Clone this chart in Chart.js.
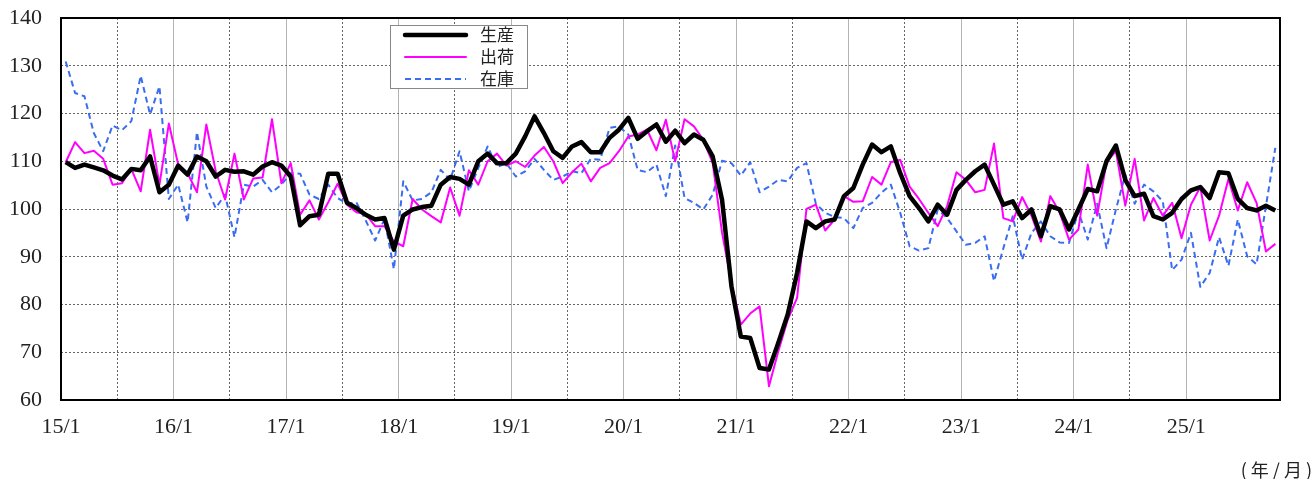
<!DOCTYPE html>
<html lang="ja">
<head>
<meta charset="utf-8">
<title>生産・出荷・在庫</title>
<script src="https://cdn.jsdelivr.net/npm/chart.js@4.4.1/dist/chart.umd.min.js"></script>
<style>
  html, body { margin: 0; padding: 0; background: #fff; }
  #wrap { width: 1316px; height: 479px; }
</style>
</head>
<body>
<div id="wrap"><canvas id="chart" width="1316" height="479"></canvas></div>
<script>
// 15/1 .. 25/10, monthly
const yearLabels = ['15/1', '16/1', '17/1', '18/1', '19/1', '20/1', '21/1', '22/1', '23/1', '24/1', '25/1'];
const monthCount = 130;
const seriesNames = ['生産', '出荷', '在庫'];
const unitLabel = '(年/月)';

const production = [
  109.8, 108.6, 109.3, 108.7, 108.1, 107.0, 106.2, 108.4, 108.1, 111.0, 103.5, 105.1,
  109.1, 107.2, 111.0, 110.0, 106.8, 108.2, 107.8, 107.9, 107.2, 108.9, 109.8, 109.1,
  106.8, 96.6, 98.5, 98.8, 107.4, 107.4, 101.3, 100.2, 98.8, 97.8, 98.1, 91.5,
  98.6, 99.9, 100.4, 100.7, 105.1, 106.7, 106.3, 105.1, 110.0, 111.6, 109.6, 109.6,
  111.6, 115.2, 119.4, 115.9, 112.1, 110.7, 113.1, 114.0, 111.9, 111.9, 114.9, 116.6,
  119.1, 114.7, 116.3, 117.7, 114.1, 116.4, 113.8, 115.6, 114.5, 111.0, 101.9, 83.8,
  73.3, 73.0, 66.7, 66.4, 72.0, 77.9, 86.6, 97.4, 96.0, 97.4, 97.8, 102.7,
  104.4, 109.3, 113.5, 111.9, 113.1, 107.5, 102.7, 100.2, 97.4, 100.9, 98.8, 104.0,
  106.1, 107.9, 109.3, 105.1, 100.9, 101.6, 98.1, 99.9, 94.3, 100.6, 99.9, 95.7,
  99.9, 104.2, 103.7, 110.0, 113.3, 106.1, 102.7, 103.2, 98.5, 97.8, 99.2, 102.1,
  103.9, 104.6, 102.3, 107.7, 107.5, 102.1, 100.2, 99.7, 100.7, 99.7
];
const shipment = [
  109.8, 114.0, 111.7, 112.2, 110.5, 105.1, 105.4, 108.4, 103.7, 116.6, 105.1, 117.9,
  109.3, 107.5, 103.5, 117.7, 107.9, 102.0, 111.6, 102.0, 106.4, 106.6, 118.8, 105.4,
  109.6, 98.8, 101.8, 97.8, 101.4, 105.3, 100.9, 99.3, 98.9, 96.4, 96.4, 93.2,
  92.2, 102.1, 99.9, 98.5, 97.2, 104.5, 98.6, 108.1, 105.1, 110.0, 111.6, 109.1,
  110.0, 108.8, 111.2, 113.0, 110.0, 105.4, 107.7, 109.5, 105.8, 108.6, 109.6, 112.1,
  115.2, 115.6, 116.6, 112.3, 118.7, 110.0, 118.8, 117.3, 114.5, 109.6, 95.0, 84.5,
  75.8, 78.1, 79.6, 62.9, 70.2, 76.8, 81.4, 100.0, 100.9, 95.5, 97.8, 102.7,
  101.5, 101.6, 106.7, 105.1, 109.8, 110.3, 104.7, 102.1, 99.2, 96.4, 100.6, 107.7,
  106.1, 103.5, 104.0, 113.7, 98.1, 97.4, 102.5, 98.6, 93.2, 102.7, 99.3, 93.6,
  95.7, 109.3, 98.6, 109.8, 112.1, 100.7, 110.5, 97.6, 102.3, 98.6, 101.3, 93.9,
  100.9, 104.6, 93.4, 98.6, 106.3, 99.7, 105.6, 101.3, 91.1, 92.7
];
const inventory = [
  130.9, 124.3, 123.6, 115.9, 112.1, 117.5, 116.5, 118.4, 127.9, 119.8, 125.7, 102.1,
  105.1, 97.2, 116.1, 104.7, 100.2, 103.0, 94.1, 105.1, 104.7, 106.1, 103.5, 105.1,
  107.5, 107.4, 103.0, 102.1, 105.1, 102.3, 101.1, 101.4, 97.6, 93.4, 97.9, 87.4,
  105.8, 101.8, 102.1, 103.5, 108.2, 106.1, 112.1, 103.7, 108.6, 113.1, 108.8, 109.6,
  106.8, 107.9, 110.5, 108.2, 106.1, 106.8, 107.9, 107.5, 110.5, 110.3, 117.0, 117.3,
  115.6, 108.2, 107.7, 109.3, 102.7, 113.3, 102.3, 101.3, 99.9, 103.0, 110.1, 109.6,
  107.0, 109.8, 103.5, 104.7, 106.1, 105.8, 108.6, 109.6, 101.1, 99.2, 98.3, 98.1,
  96.0, 100.2, 101.3, 103.4, 105.1, 99.2, 92.2, 91.3, 91.8, 99.9, 98.1, 95.3,
  92.5, 92.9, 94.3, 84.9, 91.8, 98.5, 89.4, 95.0, 97.4, 94.3, 93.0, 92.9,
  99.5, 93.6, 101.1, 91.8, 99.9, 107.2, 101.1, 105.1, 103.7, 101.6, 87.2, 89.4,
  95.0, 83.7, 86.6, 94.1, 88.1, 97.8, 90.1, 88.4, 100.6, 112.8
];

// points sit in the middle of each month
const toPoints = arr => arr.map((v, i) => ({ x: i + 0.5, y: v }));

const numFont = "'Liberation Serif', 'DejaVu Serif', serif";
const jpFont = "'Noto Sans CJK JP', sans-serif";

const isYear = c => c.tick && c.tick.value % 12 === 0;

// frame, legend box and unit label
const extras = {
  id: 'extras',
  afterDatasetsDraw(chart) {
    const { ctx, chartArea: a } = chart;
    ctx.save();
    ctx.strokeStyle = '#000';
    ctx.lineWidth = 2;
    ctx.strokeRect(a.left, a.top, a.right - a.left, a.bottom - a.top);

    // legend
    const bx = 390.5, by = 25.5, bw = 137, bh = 63;
    ctx.fillStyle = '#fff';
    ctx.fillRect(bx, by, bw, bh);
    ctx.strokeStyle = '#888';
    ctx.lineWidth = 1;
    ctx.strokeRect(bx, by, bw, bh);
    chart.data.datasets.forEach((ds, i) => {
      const y = 35 + i * 22;
      ctx.beginPath();
      ctx.strokeStyle = ds.borderColor;
      ctx.lineWidth = ds.borderWidth;
      ctx.setLineDash(ds.borderDash || []);
      ctx.lineCap = ds.borderDash ? 'butt' : 'round';
      ctx.moveTo(405, y);
      ctx.lineTo(466, y);
      ctx.stroke();
      ctx.setLineDash([]);
      ctx.fillStyle = '#222';
      ctx.font = '17px ' + jpFont;
      ctx.textBaseline = 'middle';
      ctx.fillText(ds.label, 480, y);
    });

    ctx.fillStyle = '#222';
    ctx.font = '18px ' + jpFont;
    ctx.letterSpacing = '4px';
    ctx.textAlign = 'right';
    ctx.textBaseline = 'middle';
    ctx.fillText(unitLabel, 1316, 470);
    ctx.restore();
  }
};

new Chart(document.getElementById('chart'), {
  type: 'line',
  data: {
    datasets: [
      { label: seriesNames[0], data: toPoints(production), borderColor: '#000000', borderWidth: 4.5 },
      { label: seriesNames[1], data: toPoints(shipment), borderColor: '#ff00ff', borderWidth: 2 },
      { label: seriesNames[2], data: toPoints(inventory), borderColor: '#3a6df0', borderWidth: 2, borderDash: [6, 4] }
    ]
  },
  options: {
    responsive: false,
    animation: false,
    elements: { point: { radius: 0 }, line: { tension: 0, borderJoinStyle: 'round' } },
    layout: { padding: { top: 18, right: 36, bottom: 0, left: 0 } },
    plugins: { legend: { display: false }, tooltip: { enabled: false } },
    scales: {
      x: {
        type: 'linear',
        min: 0,
        max: monthCount,
        afterFit: s => { s.height = 79; },
        grid: {
          drawTicks: false,
          color: c => isYear(c) ? '#b4b4b4' : '#666',
          lineWidth: 1
        },
        border: { display: false, dash: c => isYear(c) ? [] : [2, 2] },
        ticks: {
          stepSize: 6,
          autoSkip: false,
          maxRotation: 0,
          padding: 14,
          color: '#222',
          font: { family: numFont, size: 22 },
          callback: v => v % 12 === 0 ? yearLabels[v / 12] : ''
        }
      },
      y: {
        min: 60,
        max: 140,
        afterFit: s => { s.width = 61; s.paddingTop = 0; s.paddingBottom = 0; },
        grid: { drawTicks: false, color: '#666', lineWidth: 1 },
        border: { display: false, dash: [2, 2] },
        ticks: {
          stepSize: 10,
          padding: 19,
          color: '#222',
          font: { family: numFont, size: 22 }
        }
      }
    }
  },
  plugins: [extras]
});
</script>
</body>
</html>
